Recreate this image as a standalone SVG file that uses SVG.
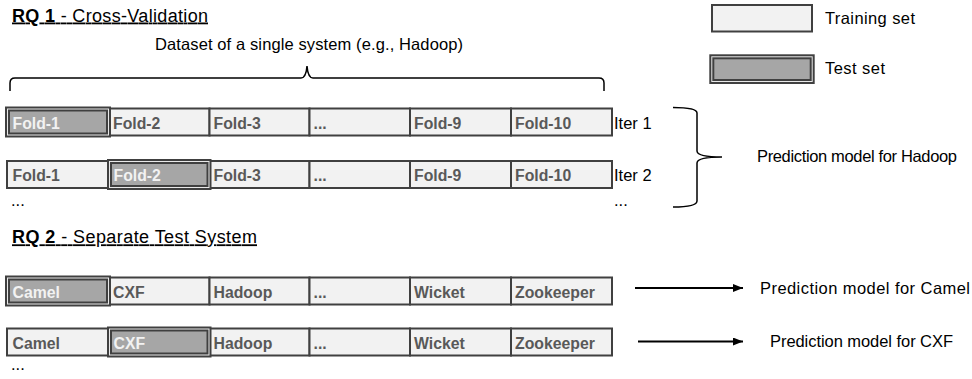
<svg xmlns="http://www.w3.org/2000/svg" width="972" height="379" viewBox="0 0 972 379">
<defs>
<style>
.tr{fill:#f2f2f2;stroke:#404040;stroke-width:2}
.te{fill:#a6a6a6;stroke:#404040;stroke-width:5}
.tl{fill:none;stroke:#e8e8e8;stroke-width:1}
.ct{font-family:"Liberation Sans",Arial,sans-serif;font-weight:bold;font-size:15.8px;fill:#595959}
.cw{fill:#f2f2f2}
.lb{font-family:"Liberation Sans",Arial,sans-serif;font-size:16.5px;fill:#000}
.ttl{font-size:18px;text-decoration:underline}
.br{fill:none;stroke:#000;stroke-width:1.5}
.ar{stroke:#000;stroke-width:2;fill:none}
</style>
<marker id="ah" markerUnits="userSpaceOnUse" markerWidth="10" markerHeight="8" refX="10" refY="4" orient="auto">
<path d="M0,0 L10,4 L0,8 z" fill="#000"/>
</marker>
</defs>
<rect width="972" height="379" fill="#fff"/>

<g id="titles">
<text class="lb ttl" x="12" y="21.5" textLength="196"><tspan font-weight="bold">RQ 1</tspan> - Cross-Validation</text>
<text class="lb" x="309" y="50" text-anchor="middle" textLength="308">Dataset of a single system (e.g., Hadoop)</text>
<text class="lb ttl" x="12" y="243.3" textLength="245"><tspan font-weight="bold">RQ 2</tspan> - Separate Test System</text>
</g>

<g id="legend">
<g id="legend-training"><rect class="tr" x="712" y="5" width="100" height="26.5"/><text class="lb" x="825" y="24" textLength="90">Training set</text></g>
<g id="legend-test"><rect class="te" x="711.8" y="56.8" width="100.4" height="24.7"/><rect class="tl" x="711.8" y="56.8" width="100.4" height="24.7"/><text class="lb" x="825" y="74" textLength="60">Test set</text></g>
</g>

<!-- Row 1 -->
<g id="r1">
<g id="r1c2"><rect class="tr" x="109" y="108.5" width="100.5" height="27"/><text class="ct" x="113" y="128.5">Fold-2</text></g>
<g id="r1c3"><rect class="tr" x="209.5" y="108.5" width="100" height="27"/><text class="ct" x="213.5" y="128.5">Fold-3</text></g>
<g id="r1c4"><rect class="tr" x="309.5" y="108.5" width="100.5" height="27"/><text class="ct" x="313.5" y="128.5">...</text></g>
<g id="r1c5"><rect class="tr" x="410" y="108.5" width="101" height="27"/><text class="ct" x="414" y="128.5">Fold-9</text></g>
<g id="r1c6"><rect class="tr" x="511" y="108.5" width="101" height="27"/><text class="ct" x="515" y="128.5">Fold-10</text></g>
<g id="r1c1"><rect class="te" x="7.5" y="109" width="101" height="26"/><rect class="tl" x="7.5" y="109" width="101" height="26"/><text class="ct cw" x="12.5" y="128.5">Fold-1</text></g>
</g>

<!-- Row 2 -->
<g id="r2">
<g id="r2c1"><rect class="tr" x="7" y="161" width="102" height="27"/><text class="ct" x="12.5" y="181">Fold-1</text></g>
<g id="r2c3"><rect class="tr" x="209.5" y="161" width="100" height="27"/><text class="ct" x="213.5" y="181">Fold-3</text></g>
<g id="r2c4"><rect class="tr" x="309.5" y="161" width="100.5" height="27"/><text class="ct" x="313.5" y="181">...</text></g>
<g id="r2c5"><rect class="tr" x="410" y="161" width="101" height="27"/><text class="ct" x="414" y="181">Fold-9</text></g>
<g id="r2c6"><rect class="tr" x="511" y="161" width="101" height="27"/><text class="ct" x="515" y="181">Fold-10</text></g>
<g id="r2c2"><rect class="te" x="109.5" y="161.5" width="99.5" height="26"/><rect class="tl" x="109.5" y="161.5" width="99.5" height="26"/><text class="ct cw" x="113.5" y="181">Fold-2</text></g>
</g>

<g id="iter-labels">
<text class="lb" x="614" y="128.5">Iter 1</text>
<text class="lb" x="614" y="181">Iter 2</text>
<text class="lb" x="614" y="206">...</text>
<text class="lb" x="11" y="206">...</text>
</g>

<g id="hadoop-model"><text class="lb" x="757" y="162" textLength="200">Prediction model for Hadoop</text></g>

<!-- Row 3 -->
<g id="r3">
<g id="r3c2"><rect class="tr" x="109" y="277.5" width="100.5" height="27"/><text class="ct" x="113" y="297.5">CXF</text></g>
<g id="r3c3"><rect class="tr" x="209.5" y="277.5" width="100" height="27"/><text class="ct" x="213.5" y="297.5">Hadoop</text></g>
<g id="r3c4"><rect class="tr" x="309.5" y="277.5" width="100.5" height="27"/><text class="ct" x="313.5" y="297.5">...</text></g>
<g id="r3c5"><rect class="tr" x="410" y="277.5" width="101" height="27"/><text class="ct" x="414" y="297.5">Wicket</text></g>
<g id="r3c6"><rect class="tr" x="511" y="277.5" width="101" height="27"/><text class="ct" x="515" y="297.5">Zookeeper</text></g>
<g id="r3c1"><rect class="te" x="7.5" y="278" width="101" height="26"/><rect class="tl" x="7.5" y="278" width="101" height="26"/><text class="ct cw" x="12.5" y="297.5">Camel</text></g>
</g>

<!-- Row 4 -->
<g id="r4">
<g id="r4c1"><rect class="tr" x="7" y="328.5" width="102" height="27"/><text class="ct" x="12.5" y="348.5">Camel</text></g>
<g id="r4c3"><rect class="tr" x="209.5" y="328.5" width="100" height="27"/><text class="ct" x="213.5" y="348.5">Hadoop</text></g>
<g id="r4c4"><rect class="tr" x="309.5" y="328.5" width="100.5" height="27"/><text class="ct" x="313.5" y="348.5">...</text></g>
<g id="r4c5"><rect class="tr" x="410" y="328.5" width="101" height="27"/><text class="ct" x="414" y="348.5">Wicket</text></g>
<g id="r4c6"><rect class="tr" x="511" y="328.5" width="101" height="27"/><text class="ct" x="515" y="348.5">Zookeeper</text></g>
<g id="r4c2"><rect class="te" x="109.5" y="329" width="99.5" height="26"/><rect class="tl" x="109.5" y="329" width="99.5" height="26"/><text class="ct cw" x="113.5" y="348.5">CXF</text></g>
</g>

<g id="more-rq2"><text class="lb" x="11" y="370">...</text></g>

<g id="camel-model"><text class="lb" x="760" y="294" textLength="210">Prediction model for Camel</text></g>
<g id="cxf-model"><text class="lb" x="770" y="347" textLength="183">Prediction model for CXF</text></g>

<g id="connectors">
<path class="br" d="M10,91 L10,83 Q10,78 15,78 L301,78 Q306,78 307,66 Q308,78 313,78 L599,78 Q604,78 604,83 L604,91"/>
<path class="br" d="M673,107.5 Q697,107.5 697,113 L697,151 Q697,157 722,157 Q697,157 697,163 L697,201 Q697,207 673,207"/>
<line class="ar" x1="635" y1="288" x2="743" y2="288" marker-end="url(#ah)"/>
<line class="ar" x1="638" y1="341.5" x2="743" y2="341.5" marker-end="url(#ah)"/>
</g>
</svg>
